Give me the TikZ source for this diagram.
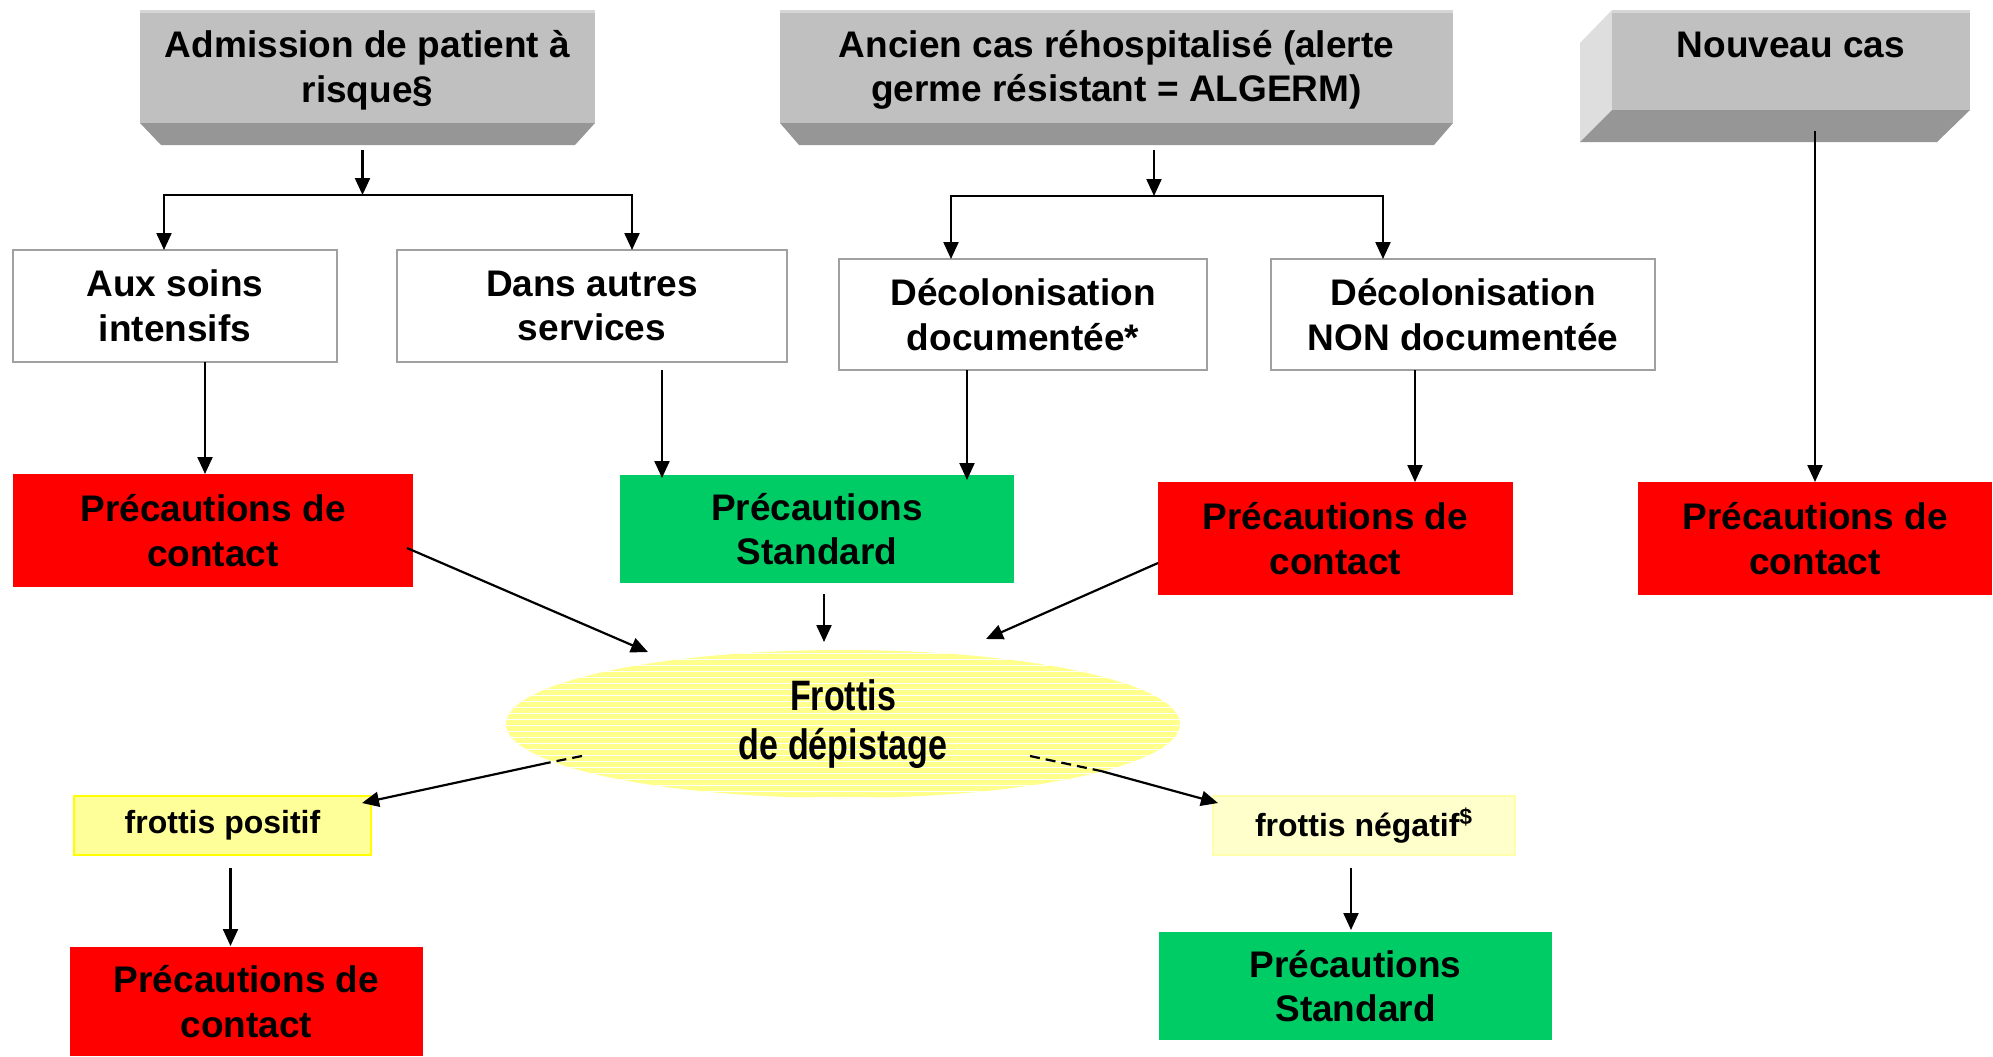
\documentclass[tikz,border=0pt]{standalone}
\usepackage{fontspec}
\setmainfont{Liberation Sans}
\usetikzlibrary{arrows.meta,patterns,calc,shapes.geometric}
\definecolor{cred}{RGB}{255,0,0}
\definecolor{cgreen}{RGB}{0,204,102}
\definecolor{gfront}{RGB}{192,192,192}
\definecolor{gbevel}{RGB}{150,150,150}
\definecolor{gside}{RGB}{222,222,222}
\definecolor{gtop}{RGB}{214,214,214}
\definecolor{boxborder}{RGB}{160,160,160}
\definecolor{ypos}{RGB}{255,255,153}
\definecolor{yposb}{RGB}{255,255,0}
\definecolor{yneg}{RGB}{255,255,204}
\definecolor{ynegb}{RGB}{255,255,170}
\definecolor{yell}{RGB}{255,255,140}
\begin{document}
\begin{tikzpicture}[x=0.5pt,y=-0.5pt,
  every node/.style={font=\bfseries\fontsize{18.5}{22.3}\selectfont, align=center, inner sep=0pt, outer sep=0pt},
  sz/.style 2 args={minimum width=#1*0.5pt, minimum height=#2*0.5pt},
  whitebox/.style={draw=boxborder, line width=1pt, fill=white},
  redbox/.style={fill=cred},
  greenbox/.style={fill=cgreen},
  frontface/.style={fill=gfront},
  smalltext/.style={font=\bfseries\fontsize{16}{18}\selectfont},
  arr/.style={draw=black, line width=1.1pt, -{Triangle[length=8.5pt,width=7.5pt]}},
  dashline/.style={draw=black, line width=1.1pt, dash pattern=on 5pt off 3pt}
]
\useasboundingbox (0,0) rectangle (1993,1056);
\fill[white] (0,0) rectangle (1993,1056);

% top boxes
\fill[gbevel] (140,123) -- (595,123) -- (575,145) -- (161,145) -- cycle;
\node (adm) [frontface, sz={455}{113}] at (367.5,66.5) {};
\fill[gtop] (140,10) rectangle (595,13);
\node (admtxt) at (367.5,70) {Admission de patient à\\risque§};

\fill[gbevel] (780,123) -- (1453,123) -- (1434,145) -- (799,145) -- cycle;
\node (anc) [frontface, sz={673}{113}] at (1116.5,66.5) {};
\fill[gtop] (780,10) rectangle (1453,13);
\node (anctxt) at (1116.5,70) {Ancien cas réhospitalisé (alerte\\germe résistant = ALGERM)};

\fill[gside] (1612,10) -- (1580,43) -- (1580,142) -- (1612,110) -- cycle;
\fill[gbevel] (1580,142) -- (1937,142) -- (1970,110) -- (1612,110) -- cycle;
\node (nouv) [frontface, sz={358}{100}] at (1791,60) {};
\fill[gtop] (1612,10) rectangle (1970,13);
\node (nouvtxt) at (1791,44.5) {Nouveau cas};

% second row
\node (aux) [whitebox, sz={324}{112}] at (175,306) {Aux soins\\intensifs};
\node (dans) [whitebox, sz={390}{112}] at (592,306) {Dans autres\\services};
\node (decol) [whitebox, sz={368}{111}] at (1023,314.5) {Décolonisation\\documentée*};
\node (noncol) [whitebox, sz={384}{111}] at (1463,314.5) {Décolonisation\\NON documentée};

% third row
\node (r1) [redbox, sz={400}{113}] at (213,530.5) {Précautions de\\contact};
\node (g1) [greenbox, sz={394}{108}] at (817,529) {Précautions\\Standard};
\node (r2) [redbox, sz={355}{113}] at (1335.5,538.5) {Précautions de\\contact};
\node (r3) [redbox, sz={354}{113}] at (1815,538.5) {Précautions de\\contact};

% ellipse
\node (ell) [ellipse, fill=yell, minimum width=337pt, minimum height=74pt,
  postaction={pattern=horizontal lines, pattern color=white}] at (843,724) {};
\node (elltxt) at (843,724) {\scalebox{0.92}[1.15]{Frottis}\\[2pt]\scalebox{0.92}[1.15]{de dépistage}};

% frottis boxes
\node (pos) [smalltext, fill=ypos, draw=yposb, line width=1.2pt, sz={297}{59}] at (222.5,825.5) {frottis positif};
\node (neg) [smalltext, fill=yneg, draw=ynegb, line width=1pt, sz={302}{59}] at (1364,825.5) {frottis négatif\textsuperscript{\$}};

% bottom
\node (r4) [redbox, sz={353}{109}] at (246.5,1001.5) {Précautions de\\contact};
\node (g2) [greenbox, sz={393}{108}] at (1355.5,986) {Précautions\\Standard};

% connectors from top boxes
\coordinate (j1) at ($(adm.south)+(-5,72)$);
\draw[arr] ($(adm.south)+(-5,27)$) -- (j1);
\draw[arr] (j1) -| ($(aux.north)+(-11,0)$);
\draw[arr] (j1) -| ($(dans.north)+(40,0)$);

\coordinate (j2) at ($(anc.south)+(37.5,73)$);
\draw[arr] ($(anc.south)+(37.5,27)$) -- (j2);
\draw[arr] (j2) -| ($(decol.north)+(-72,0)$);
\draw[arr] (j2) -| ($(noncol.north)+(-80,0)$);

% down arrows
\draw[arr] ($(aux.south)+(30,0)$) -- ($(r1.north)+(-8,0)$);
\draw[arr] ($(dans.south)+(70,8)$) -- ($(g1.north)+(-155,3)$);
\draw[arr] ($(decol.south)+(-56,0)$) -- ($(g1.north)+(150,5)$);
\draw[arr] ($(noncol.south)+(-48,0)$) -- ($(r2.north)+(79.5,0)$);
\draw[arr] ($(nouv.south)+(24,21)$) -- (r3.north);

% to ellipse
\draw[arr] ($(r1.east)+(-6,17.5)$) -- ($(ell.center)+(-195,-72)$);
\draw[arr] ($(g1.south)+(7,11)$) -- ($(ell.center)+(-19,-82)$);
\draw[arr] ($(r2.west)+(0,24.5)$) -- ($(ell.center)+(143,-85)$);

% from ellipse
\coordinate (e1) at ($(ell.center)+(-296,39)$);
\draw[dashline] ($(ell.center)+(-261,32)$) -- (e1);
\draw[arr] (e1) -- ($(pos.north east)+(-9,7)$);
\coordinate (e2) at ($(ell.center)+(258,47)$);
\draw[dashline] ($(ell.center)+(187,32)$) -- (e2);
\draw[arr] (e2) -- ($(neg.north west)+(5,7)$);

% bottom arrows
\draw[arr] ($(pos.south)+(8,13)$) -- ($(r4.north)+(-16,-1)$);
\draw[arr] ($(neg.south)+(-13,13)$) -- ($(g2.north)+(-4.5,-2)$);
\end{tikzpicture}
\end{document}
